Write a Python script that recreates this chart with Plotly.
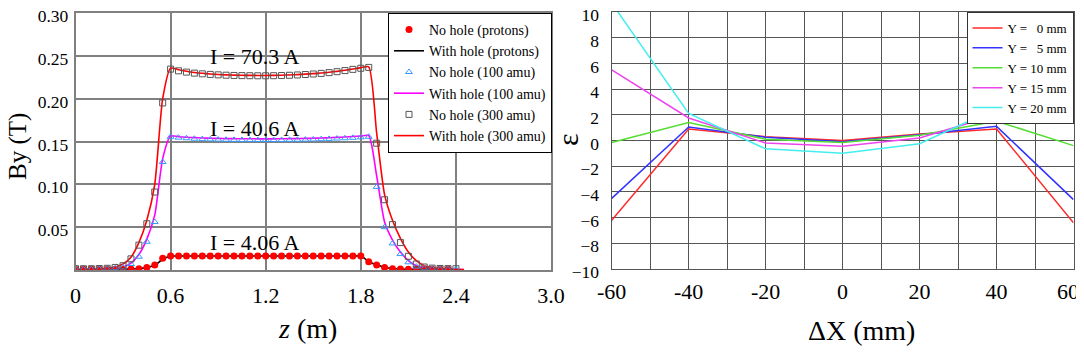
import plotly.graph_objects as go

# ---------------- Left panel data: By (T) vs z (m) ----------------
z = [0.00, 0.05, 0.10, 0.15, 0.20, 0.25, 0.30, 0.35, 0.40, 0.45, 0.50, 0.55, 0.60,
     0.65, 0.70, 0.75, 0.80, 0.85, 0.90, 0.95, 1.00, 1.05, 1.10, 1.15, 1.20, 1.25,
     1.30, 1.35, 1.40, 1.45, 1.50, 1.55, 1.60, 1.65, 1.70, 1.75, 1.80, 1.85,
     1.90, 1.95, 2.00, 2.05, 2.10, 2.15, 2.20, 2.25, 2.30, 2.35, 2.40, 2.45]

by_proton_nohole = [0.0008, 0.0008, 0.0008, 0.0008, 0.0009, 0.0009, 0.0010, 0.0011, 0.0015, 0.0030, 0.0058, 0.0136, 0.0163,
                    0.0163, 0.0163, 0.0163, 0.0163, 0.0163, 0.0163, 0.0163, 0.0163, 0.0163, 0.0163, 0.0163, 0.0163,
                    0.0163, 0.0163, 0.0163, 0.0163, 0.0163, 0.0163, 0.0163, 0.0163, 0.0163, 0.0163, 0.0163, 0.0163,
                    0.0097, 0.0058, 0.0030, 0.0016, 0.0012, 0.0010, 0.0009, 0.0009, 0.0008, 0.0008, 0.0008, 0.0008]
by_proton_hole = [0.0006, 0.0006, 0.0006, 0.0007, 0.0008, 0.0009, 0.0010, 0.0012, 0.0017, 0.0030, 0.0055, 0.0125, 0.0162,
                  0.0163, 0.0163, 0.0163, 0.0163, 0.0163, 0.0163, 0.0163, 0.0163, 0.0163, 0.0163, 0.0163, 0.0163,
                  0.0163, 0.0163, 0.0163, 0.0163, 0.0163, 0.0163, 0.0163, 0.0163, 0.0163, 0.0163, 0.0163, 0.0163,
                  0.0100, 0.0060, 0.0033, 0.0018, 0.0012, 0.0009, 0.0008, 0.0007, 0.0006, 0.0006, 0.0006, 0.0006]
by_100_nohole = [0.0010, 0.0010, 0.0011, 0.0012, 0.0015, 0.0020, 0.0030, 0.0070, 0.0155, 0.0330, 0.0560, 0.1260, 0.1555,
                 0.1545, 0.1538, 0.1532, 0.1528, 0.1525, 0.1522, 0.1520, 0.1519, 0.1518, 0.1518, 0.1517, 0.1517,
                 0.1517, 0.1518, 0.1519, 0.1520, 0.1522, 0.1524, 0.1527, 0.1530, 0.1534, 0.1538, 0.1543, 0.1548, 0.1555,
                 0.0970, 0.0500, 0.0310, 0.0186, 0.0090, 0.0040, 0.0020, 0.0015, 0.0012, 0.0010, 0.0010, 0.0010]
by_100_hole = [0.0004, 0.0004, 0.0005, 0.0006, 0.0008, 0.0015, 0.0035, 0.0080, 0.0180, 0.0360, 0.0640, 0.1300, 0.1565,
               0.1556, 0.1550, 0.1545, 0.1541, 0.1538, 0.1536, 0.1534, 0.1533, 0.1532, 0.1532, 0.1531, 0.1531,
               0.1531, 0.1532, 0.1533, 0.1534, 0.1536, 0.1538, 0.1541, 0.1544, 0.1548, 0.1553, 0.1558, 0.1564, 0.1570,
               0.1100, 0.0560, 0.0350, 0.0210, 0.0110, 0.0050, 0.0025, 0.0012, 0.0007, 0.0005, 0.0004, 0.0004]
by_300_nohole = [0.0015, 0.0015, 0.0015, 0.0017, 0.0020, 0.0030, 0.0050, 0.0130, 0.0290, 0.0540, 0.0910, 0.1950, 0.2345,
                 0.2325, 0.2310, 0.2298, 0.2290, 0.2283, 0.2278, 0.2274, 0.2271, 0.2269, 0.2268, 0.2267, 0.2267,
                 0.2268, 0.2270, 0.2273, 0.2277, 0.2282, 0.2288, 0.2295, 0.2304, 0.2315, 0.2328, 0.2342, 0.2355, 0.2365,
                 0.1480, 0.0820, 0.0530, 0.0320, 0.0160, 0.0070, 0.0035, 0.0022, 0.0018, 0.0016, 0.0015, 0.0015]
by_300_hole = [0.0005, 0.0006, 0.0008, 0.0012, 0.0020, 0.0035, 0.0070, 0.0150, 0.0320, 0.0580, 0.1000, 0.2000, 0.2357,
               0.2338, 0.2320, 0.2306, 0.2296, 0.2288, 0.2282, 0.2278, 0.2275, 0.2273, 0.2272, 0.2271, 0.2271,
               0.2272, 0.2274, 0.2277, 0.2281, 0.2286, 0.2292, 0.2299, 0.2308, 0.2319, 0.2332, 0.2347, 0.2362, 0.2372,
               0.1600, 0.0880, 0.0580, 0.0370, 0.0210, 0.0110, 0.0050, 0.0025, 0.0013, 0.0008, 0.0006, 0.0005]

left_xtick_vals = [0, 0.6, 1.2, 1.8, 2.4, 3.0]
left_xtick_text = ["0", "0.6", "1.2", "1.8", "2.4", "3.0"]
left_ytick_vals = [0.05, 0.10, 0.15, 0.20, 0.25, 0.30]
left_ytick_text = ["0.05", "0.10", "0.15", "0.20", "0.25", "0.30"]
current_labels = ["I = 70.3 A", "I = 40.6 A", "I = 4.06 A"]

# ---------------- Right panel data: epsilon vs dX (mm) ----------------
dx = [-60, -40, -20, 0, 20, 40, 60]
eps_y0 = [-6.2, 0.9, 0.3, 0.0, 0.5, 0.9, -6.4]
eps_y5 = [-4.5, 1.05, 0.25, -0.1, 0.45, 1.1, -4.6]
eps_y10 = [-0.15, 1.4, 0.1, -0.15, 0.4, 1.5, -0.4]
eps_y15 = [5.5, 1.75, -0.2, -0.45, 0.2, 2.0, 5.6]
eps_y20 = [10.7, 2.1, -0.65, -1.0, -0.25, 2.5, 10.4]
right_series_names = ["Y = \u00a0\u00a00 mm", "Y = \u00a0\u00a05 mm", "Y = 10 mm", "Y = 15 mm", "Y = 20 mm"]
right_xtick_vals = [-60, -50, -40, -30, -20, -10, 0, 10, 20, 30, 40, 50, 60]
right_xtick_text = ["-60", "", "-40", "", "-20", "", "0", "", "20", "", "40", "", "60\u00a0\u00a0"]
right_ytick_vals = [-10, -8, -6, -4, -2, 0, 2, 4, 6, 8, 10]

FONT = "Liberation Serif"
W, H = 1084, 353
OFF = 8  # page body margin offset (screen px)


def PX(px):
    return (px - OFF) / W


def PY(py):
    return 1 - (py - OFF) / H


fig = go.Figure()
zm = z[:-1]

# draw lines first, markers on top; legendrank keeps the legend order
fig.add_trace(go.Scatter(x=z, y=by_proton_hole, mode="lines", name="With hole (protons)", legendrank=2,
                         line=dict(color="#000000", width=1.6, shape="spline", smoothing=0.6), legend="legend"))
fig.add_trace(go.Scatter(x=z, y=by_100_hole, mode="lines", name="With hole (100 amu)", legendrank=4,
                         line=dict(color="#ff00ff", width=1.6, shape="spline", smoothing=0.6), legend="legend"))
fig.add_trace(go.Scatter(x=z, y=by_300_hole, mode="lines", name="With hole (300 amu)", legendrank=6,
                         line=dict(color="#ff0000", width=1.6, shape="spline", smoothing=0.6), legend="legend"))
fig.add_trace(go.Scatter(x=zm, y=by_proton_nohole[:-1], mode="markers", name="No hole (protons)", legendrank=1,
                         marker=dict(symbol="circle", size=7, color="#ff0000"), legend="legend"))
fig.add_trace(go.Scatter(x=zm, y=by_100_nohole[:-1], mode="markers", name="No hole (100 amu)", legendrank=3,
                         marker=dict(symbol="triangle-up-open", size=6, color="#3399ff", line=dict(width=1)),
                         legend="legend"))
fig.add_trace(go.Scatter(x=zm, y=by_300_nohole[:-1], mode="markers", name="No hole (300 amu)", legendrank=5,
                         marker=dict(symbol="square-open", size=6, color="#555555", line=dict(width=1)),
                         legend="legend"))

right_colors = ["#ff2a2a", "#3333ff", "#55dd33", "#ee44ee", "#44eeee"]
for name, vals, col in zip(right_series_names, [eps_y0, eps_y5, eps_y10, eps_y15, eps_y20], right_colors):
    fig.add_trace(go.Scatter(x=dx, y=vals, mode="lines", name=name, xaxis="x2", yaxis="y2",
                             line=dict(color=col, width=1.5), legend="legend2"))

# annotations for currents
for txt, yv in zip(current_labels, [0.2495, 0.165, 0.0325]):
    fig.add_annotation(x=1.13, y=yv, xref="x", yref="y", text=txt, showarrow=False,
                       font=dict(family=FONT, size=22, color="black"), xanchor="center", yanchor="middle")

# axis titles as annotations (paper coords)
title_font = dict(family=FONT, color="black")
fig.add_annotation(x=PX(18), y=PY(147), xref="paper", yref="paper", text="By (T)", textangle=-90,
                   xanchor="center", yanchor="middle", showarrow=False, font=dict(size=25, **title_font))
fig.add_annotation(x=PX(307.5), y=PY(328), xref="paper", yref="paper", text="<i>z</i> (m)",
                   xanchor="center", yanchor="middle", showarrow=False, font=dict(size=28, **title_font))
fig.add_annotation(x=PX(861), y=PY(330), xref="paper", yref="paper", text="\u0394X (mm)",
                   xanchor="center", yanchor="middle", showarrow=False, font=dict(size=28, **title_font))
fig.add_annotation(x=PX(568), y=PY(140), xref="paper", yref="paper", text="\u03b5", textangle=-90,
                   xanchor="center", yanchor="middle", showarrow=False, font=dict(size=30, **title_font))

LGRID = "#808080"
RGRID = "#555555"
common = dict(zeroline=False, showline=True, mirror=True, ticks="", automargin=False, showgrid=True,
              ticklabeloverflow="allow")
fig.update_layout(
    template="none",
    width=W, height=H, margin=dict(l=0, r=0, t=0, b=0, pad=0),
    paper_bgcolor="white", plot_bgcolor="white",
    font=dict(family=FONT, color="black"),
    xaxis=dict(domain=[PX(75.5), PX(551)], range=[0, 3.0], tickvals=left_xtick_vals, ticktext=left_xtick_text,
               gridcolor=LGRID, gridwidth=1.5, linecolor=LGRID, linewidth=1.5, ticklabelstandoff=5,
               tickfont=dict(family=FONT, size=22), anchor="y", **common),
    yaxis=dict(domain=[PY(270), PY(13)], range=[0, 0.30], tickvals=left_ytick_vals, ticktext=left_ytick_text,
               gridcolor=LGRID, gridwidth=1.5, linecolor=LGRID, linewidth=1.5, ticklabelshift=3,
               ticklabelstandoff=2, tickfont=dict(family=FONT, size=17.5), anchor="x", **common),
    xaxis2=dict(domain=[PX(611.7), PX(1073.5)], range=[-60, 60], tickvals=right_xtick_vals,
                ticktext=right_xtick_text, ticklabelstandoff=2,
                gridcolor=RGRID, gridwidth=1.2, linecolor=RGRID, linewidth=1.2,
                tickfont=dict(family=FONT, size=22), anchor="y2", **common),
    yaxis2=dict(domain=[PY(269), PY(12)], range=[-10, 10], tickvals=right_ytick_vals,
                gridcolor=RGRID, gridwidth=1.2, linecolor=RGRID, linewidth=1.2, ticklabelstandoff=8,
                ticklabelshift=3, tickfont=dict(family=FONT, size=17.5), anchor="x2", **common),
    legend=dict(x=PX(552), y=PY(13), xanchor="right", yanchor="top", bgcolor="white",
                bordercolor="black", borderwidth=1, font=dict(family=FONT, size=14), tracegroupgap=0),
    legend2=dict(x=PX(1073.5), y=PY(12), xanchor="right", yanchor="top", bgcolor="white",
                 bordercolor="#333333", borderwidth=1, font=dict(family=FONT, size=13), tracegroupgap=0),
    showlegend=True,
)

fig.write_html("out.html")
